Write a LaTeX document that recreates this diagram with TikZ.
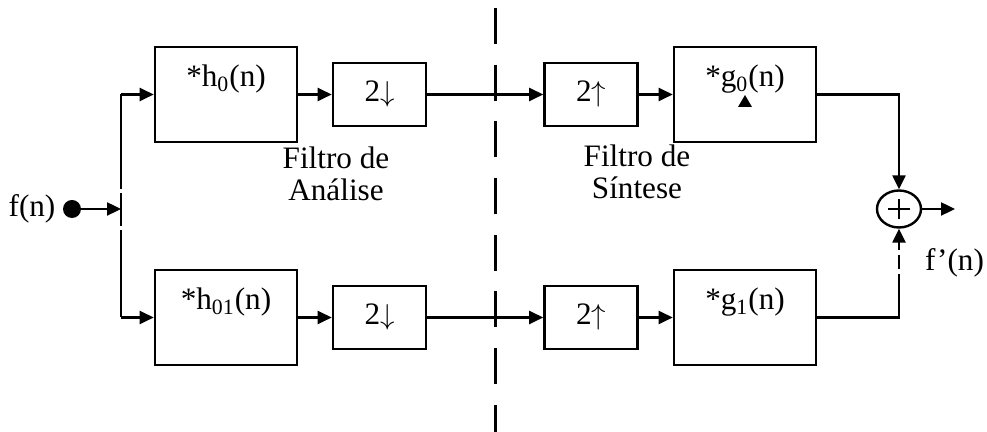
\documentclass[tikz,border=0pt]{standalone}
\usepackage{fontspec}
\setmainfont{Liberation Serif}
\usetikzlibrary{arrows.meta,shapes.geometric}

\tikzset{
  txt/.style={font=\fontsize{15.6pt}{16pt}\selectfont},
  filterbox/.style={txt, draw, line width=1.3pt, inner sep=0pt,
    minimum width=71pt, minimum height=47.5pt,
    text height=11pt, text depth=18.5pt},
  ratebox/.style={txt, draw, line width=1.3pt, inner sep=0pt,
    minimum width=46.5pt, minimum height=31.5pt,
    text height=11pt, text depth=4pt},
  wire/.style={line width=1.2pt},
  flow/.style={wire, -{Triangle[length=7pt,width=6.5pt]}},
  sumnode/.style={draw, ellipse, line width=1.2pt, inner sep=0pt,
    minimum width=22pt, minimum height=18.5pt,
    path picture={
      \draw[line width=1.2pt] ([xshift=-5.5pt]path picture bounding box.center)
        -- ([xshift=5.5pt]path picture bounding box.center);
      \draw[line width=1.2pt] ([yshift=-4.8pt]path picture bounding box.center)
        -- ([yshift=4.8pt]path picture bounding box.center);
    }},
}

\begin{document}
\begin{tikzpicture}[x=0.5pt, y=-0.5pt]
  \useasboundingbox (0,0) rectangle (987,432);

  % divider between analysis and synthesis
  \coordinate (dtop) at (495.5,8);
  \coordinate (dbot) at (495.5,432);
  \draw[line width=1.2pt, dash pattern=on 18pt off 10.35pt] (dtop) -- (dbot);

  % input
  \node[txt] (fin) at (32,209) {f(n)};
  \node[circle, fill, inner sep=0pt, minimum size=9pt] (src) at (72,209) {};
  \coordinate (split) at (121,209);
  \coordinate (vt) at (121,94.5);
  \coordinate (vb) at (121,317.5);

  % analysis bank
  \node[filterbox] (h0)  at (226,94.5)  {*h\textsubscript{0}(n)};
  \node[ratebox]   (d0)  at (379.5,94.5) {2$\downarrow$};
  \node[filterbox] (h1)  at (226,317.5) {*h\textsubscript{01}(n)};
  \node[ratebox]   (d1)  at (379.5,317.5) {2$\downarrow$};

  % synthesis bank
  \node[ratebox]   (u0)  at (591,94.5)  {2$\uparrow$};
  \node[filterbox] (g0)  at (745,94.5)  {*g\textsubscript{0}(n)};
  \node[ratebox]   (u1)  at (591,317.5) {2$\uparrow$};
  \node[filterbox] (g1)  at (745,317.5) {*g\textsubscript{1}(n)};

  % small marker under g0
  \fill (738,107) -- (752,107) -- (745,95) -- cycle;

  % summing junction and output
  \node[sumnode] (sum) at (899,209) {};
  \coordinate (out) at (955,209);
  \node[txt] (fout) at (954.5,263) {f’(n)};

  % section captions
  \node[txt, align=center] (cap1) at (336,174) {Filtro de\\Análise};
  \node[txt, align=center] (cap2) at (637,172) {Filtro de\\Síntese};

  % connections
  \draw[flow] (src) -- (split);
  \draw[wire, dash pattern=on 47.5pt off 2pt on 16.5pt off 2pt on 100pt] (vt) -- (vb);
  \draw[flow] (vt) -- (h0.west);
  \draw[flow] (vb) -- (h1.west);
  \draw[flow] (h0) -- (d0);
  \draw[flow] (h1) -- (d1);
  \draw[flow] (d0) -- (u0);
  \draw[flow] (d1) -- (u1);
  \draw[flow] (u0) -- (g0);
  \draw[flow] (u1) -- (g1);
  \draw[flow] (g0.east) -| (sum.north);
  \draw[flow, dash pattern=on 62.5pt off 2.5pt on 7pt off 2.5pt on 100pt] (g1.east) -| (sum.south);
  \draw[flow] (sum) -- (out);
\end{tikzpicture}
\end{document}
